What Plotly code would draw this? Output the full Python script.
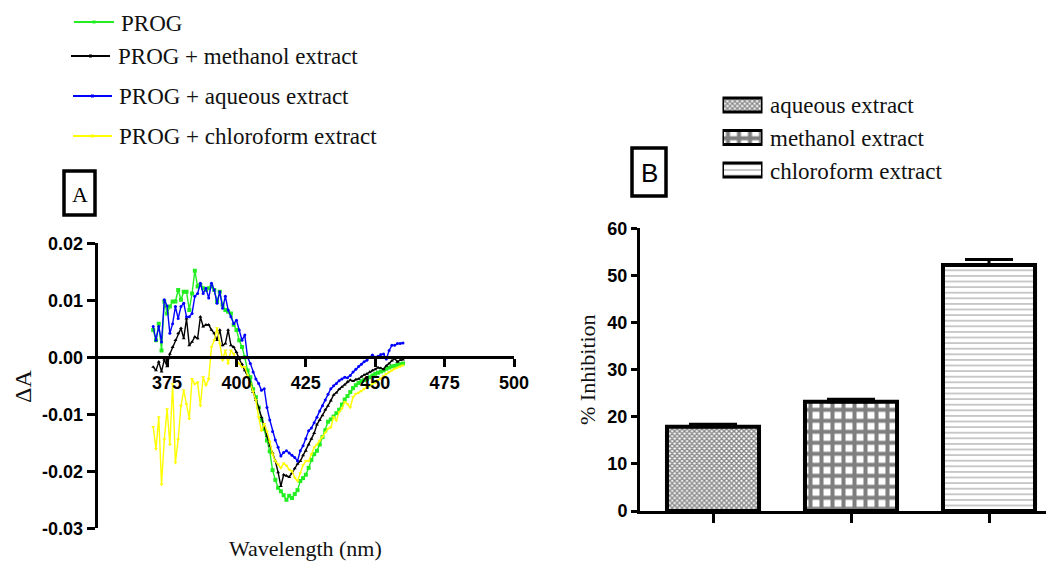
import plotly.graph_objects as go

# ---------------- data ----------------
wavelength = list(range(370, 461))  # nm

# Delta A values in units of 0.001
prog_milli = [4.8, 3.0, 5.9, 1.2, 9.8, 7.7, 8.9, 9.8, 9.8, 11.8,
              10.1, 11.5, 11.5, 8.3, 11.2, 15.2, 12.4, 12.7, 12.1, 11.8,
              12.1, 12.4, 11.8, 9.8, 11.5, 9.2, 8.3, 8.0, 7.7, 5.7,
              4.8, 3.0, 1.8, 0.0, -2.3, -3.5, -5.6, -7.0, -8.8, -11.0,
              -12.6, -14.6, -16.5, -19.8, -21.5, -22.9, -23.5, -24.2, -25.0, -24.3,
              -24.7, -24.0, -23.3, -21.7, -21.2, -20.6, -19.4, -18.0, -17.0, -16.4,
              -15.3, -14.0, -12.8, -11.3, -10.9, -10.4, -9.8, -9.2, -8.3, -7.4,
              -6.8, -6.1, -5.4, -4.9, -4.5, -4.2, -4.0, -3.8, -3.5, -3.2,
              -2.9, -2.7, -2.5, -2.3, -2.0, -1.8, -1.6, -1.5, -1.3, -1.2,
              -1.1]
methanol_milli = [-1.7, -2.3, -0.8, -2.5, -0.4, -1.6, 0.6, 1.8, 3.0, 4.2,
                  5.1, 3.3, 6.8, 2.1, 2.7, 3.6, 3.3, 7.1, 5.4, 5.7,
                  5.7, 4.8, 4.2, 3.0, 4.8, 2.1, 2.4, 4.8, 2.1, 1.8,
                  0.9, -0.3, -1.2, -2.3, -3.3, -4.8, -6.1, -7.5, -8.8, -10.5,
                  -12.0, -13.8, -15.5, -16.8, -18.2, -20.2, -22.6, -20.6, -20.8, -21.0,
                  -20.3, -19.5, -18.7, -18.2, -17.2, -16.4, -15.3, -14.3, -13.3, -11.8,
                  -11.0, -10.2, -9.2, -8.5, -7.6, -6.6, -6.2, -5.6, -5.2, -4.8,
                  -4.3, -4.0, -4.2, -3.9, -3.8, -3.4, -3.1, -2.9, -2.6, -2.3,
                  -2.1, -1.8, -1.9, -2.1, -1.5, -1.1, -0.6, -0.2, -0.8, -0.5,
                  -0.4]
aqueous_milli = [5.4, 3.0, 5.4, 2.7, 10.1, 9.0, 4.2, 5.9, 8.9, 6.8,
                 8.9, 9.5, 7.1, 7.1, 7.7, 10.7, 11.2, 13.0, 11.2, 12.1,
                 10.4, 13.0, 11.8, 9.5, 11.5, 8.6, 10.7, 8.3, 7.1, 5.9,
                 6.5, 4.8, 3.0, 3.9, 0.0, -1.1, -2.6, -3.8, -4.6, -5.8,
                 -5.5, -8.8, -11.0, -13.0, -14.5, -15.8, -17.3, -16.7, -16.4, -16.8,
                 -17.2, -17.6, -18.2, -16.4, -15.5, -14.3, -12.9, -12.4, -11.5, -10.5,
                 -9.4, -8.5, -7.5, -6.5, -5.5, -5.0, -4.6, -4.1, -3.8, -3.5,
                 -3.6, -3.2, -2.6, -2.1, -1.6, -1.2, -0.8, -0.5, 0.0, 0.4,
                 0.0, 0.2, 0.5, 0.6, -0.3, 1.2, 2.1, 2.1, 2.4, 2.4,
                 2.5]
chloroform_milli = [-12.2, -16.1, -10.5, -22.3, -14.4, -9.1, -15.3, -4.7, -18.5, -14.4,
                    -8.5, -5.8, -8.2, -10.8, -3.8, -4.7, -4.4, -8.5, -3.5, -4.9,
                    -3.8, 1.8, 3.0, 5.1, 2.4, -0.5, 1.2, -1.1, 1.2, 0.6,
                    -0.5, -1.1, -1.7, -1.7, -3.2, -4.7, -6.0, -7.5, -10.5, -12.9,
                    -11.7, -13.0, -14.8, -17.0, -18.2, -18.8, -19.4, -18.6, -19.0, -19.7,
                    -20.0, -21.1, -21.7, -20.3, -18.9, -18.2, -18.2, -17.0, -15.8, -15.3,
                    -14.6, -14.0, -13.2, -12.5, -12.3, -10.5, -11.1, -9.6, -9.0, -7.8,
                    -8.2, -8.8, -7.0, -6.4, -6.2, -5.9, -5.5, -5.2, -5.0, -4.7,
                    -4.4, -4.0, -3.7, -3.3, -2.9, -2.6, -2.3, -2.0, -1.8, -1.6,
                    -1.4]

series_names = ["PROG", "PROG + methanol extract", "PROG + aqueous extract",
                "PROG + chloroform extract"]

xticks_a = [375, 400, 425, 450, 475, 500]
yticks_a = [-0.03, -0.02, -0.01, 0.0, 0.01, 0.02]
yticklabels_a = ["-0.03", "-0.02", "-0.01", "0.00", "0.01", "0.02"]

extracts = ["aqueous extract", "methanol extract", "chloroform extract"]
inhibition = [17.9, 23.2, 52.2]
inhibition_err = [0.5, 0.5, 1.2]
yticks_b = [0, 10, 20, 30, 40, 50, 60]

# ---------------- styles ----------------
W, H = 1046, 562
def px(x):
    return x / W
def py(y):
    return 1 - y / H

line_colors = ["#22ee22", "#000000", "#0000ff", "#ffff00"]
marker_symbols = ["square", "triangle-up", "circle", "triangle-down"]
marker_sizes = [4, 3.5, 3, 3.5]

pattern_shapes = ["x", "+", "-"]
pattern_sizes = [3.5, 11, 5.6]
pattern_solidity = [0.65, 0.6, 0.22]
pattern_fg = ["#111111", "#000000", "#555555"]

SERIF = "Liberation Serif"
SANS = "Liberation Sans"

fig = go.Figure()

series = [prog_milli, methanol_milli, aqueous_milli, chloroform_milli]
for name, vals, col, sym, ms in zip(series_names, series, line_colors,
                                    marker_symbols, marker_sizes):
    fig.add_trace(go.Scatter(
        x=wavelength, y=[v / 1000 for v in vals], name=name,
        mode="lines+markers",
        line=dict(color=col, width=1.4),
        marker=dict(color=col, symbol=sym, size=ms, line=dict(width=0)),
        xaxis="x", yaxis="y", showlegend=False))

cats = list(range(len(extracts)))
fig.add_trace(go.Bar(
    x=cats, y=inhibition, width=0.667, xaxis="x2", yaxis="y2",
    showlegend=False,
    marker=dict(color="white", line=dict(color="black", width=4),
                pattern=dict(shape=pattern_shapes, size=pattern_sizes,
                             solidity=pattern_solidity, fgcolor=pattern_fg,
                             fillmode="overlay")),
    error_y=dict(type="data", symmetric=False, array=inhibition_err,
                 arrayminus=[0 for _ in inhibition_err], color="black",
                 thickness=3, width=24)))

# legend swatches for panel B (drawn as bars on a tiny hidden axis)
fig.add_trace(go.Bar(
    y=cats, x=[1 for _ in cats], orientation="h", width=0.43,
    xaxis="x3", yaxis="y3", showlegend=False, hoverinfo="skip",
    marker=dict(color="white", line=dict(color="black", width=3),
                pattern=dict(shape=pattern_shapes, size=pattern_sizes,
                             solidity=pattern_solidity, fgcolor=pattern_fg,
                             fillmode="overlay"))))

tick_font = dict(family=SANS, size=18, color="black", weight="bold")

fig.update_layout(
    width=W, height=H,
    margin=dict(l=0, r=0, t=0, b=0, pad=0, autoexpand=False),
    paper_bgcolor="white", plot_bgcolor="white",
    font=dict(family=SANS, color="black"),
    xaxis=dict(domain=[px(97.7), px(514)], range=[350, 500],
               anchor="free", position=py(357.3), automargin=False,
               tickvals=xticks_a, ticks="outside", ticklen=8, tickwidth=3,
               tickcolor="black", showline=True, linewidth=3, linecolor="black",
               showgrid=False, zeroline=False, tickfont=tick_font),
    yaxis=dict(domain=[py(528.3), py(243.3)], range=[-0.03, 0.02],
               anchor="x", tickvals=yticks_a, ticktext=yticklabels_a,
               automargin=False,
               ticks="outside", ticklen=8, tickwidth=3, tickcolor="black",
               showline=True, linewidth=3, linecolor="black",
               showgrid=False, zeroline=False, tickfont=tick_font),
    xaxis2=dict(domain=[px(640), 1.0], range=[-0.529, 2.413], anchor="y2",
                tickvals=cats, showticklabels=False, ticks="outside",
                automargin=False,
                ticklen=9, tickwidth=3, tickcolor="black",
                showline=True, linewidth=3, linecolor="black",
                showgrid=False, zeroline=False),
    yaxis2=dict(domain=[py(511), py(228.3)], range=[0, 60], anchor="x2",
                tickvals=yticks_b, ticks="outside", ticklen=6, tickwidth=3,
                automargin=False,
                tickcolor="black", showline=True, linewidth=3,
                linecolor="black", showgrid=False, zeroline=False,
                tickfont=tick_font),
    xaxis3=dict(domain=[px(722.5), px(762.5)], range=[0, 1], anchor="y3",
                visible=False, fixedrange=True),
    yaxis3=dict(domain=[py(186.25), py(88.75)], range=[2.5, -0.5],
                anchor="x3", visible=False, fixedrange=True),
)

shapes = []
annotations = []

def note(text, x, y, font, xanchor="center", textangle=0):
    annotations.append(dict(text=text, xref="paper", yref="paper",
                            x=px(x), y=py(y), xanchor=xanchor,
                            yanchor="middle", showarrow=False,
                            textangle=textangle, font=font))

serif_font = dict(family=SERIF, size=23, color="#111")

# panel A legend
leg_y = [22, 56, 96, 136]
leg_x0 = [74, 71, 73, 73]
leg_x1 = [114, 110, 112, 112]
leg_tx = [119, 116, 117, 117]
for name, col, y, x0, x1, tx in zip(series_names, line_colors, leg_y,
                                    leg_x0, leg_x1, leg_tx):
    shapes.append(dict(type="line", xref="paper", yref="paper",
                       x0=px(x0), x1=px(x1), y0=py(y), y1=py(y),
                       line=dict(color=col, width=2)))
    xm = (x0 + x1) / 2
    shapes.append(dict(type="rect", xref="paper", yref="paper",
                       x0=px(xm - 1.5), x1=px(xm + 1.5),
                       y0=py(y + 1.5), y1=py(y - 1.5),
                       fillcolor=col, line=dict(width=0)))
    note(name, tx, y + 1, serif_font, xanchor="left")

# panel B legend texts
legb_y = [105, 137.5, 170]
for name, y in zip(extracts, legb_y):
    note(name, 768, y + 1, serif_font, xanchor="left")

# panel labels in boxes
shapes.append(dict(type="rect", xref="paper", yref="paper",
                   x0=px(64), x1=px(95), y0=py(215), y1=py(171),
                   line=dict(color="black", width=3.5)))
note("A", 79.5, 194, dict(family=SERIF, size=22, color="black"))
shapes.append(dict(type="rect", xref="paper", yref="paper",
                   x0=px(632), x1=px(666), y0=py(196), y1=py(148),
                   line=dict(color="black", width=3.5)))
note("B", 649, 173, dict(family=SANS, size=26, color="black"))

# axis titles
note("Wavelength (nm)", 305, 548, dict(family=SERIF, size=22, color="#111"))
note("ΔA", 23, 387, dict(family=SERIF, size=24, color="#111"), textangle=-90)
note("% Inhibition", 587, 370, dict(family=SERIF, size=22, color="#111"),
     textangle=-90)

fig.update_layout(shapes=shapes, annotations=annotations)

fig.write_html("out.html",
               config={"displayModeBar": False},
               post_script="document.body.style.margin='0';"
                           "document.body.style.overflow='hidden';")
